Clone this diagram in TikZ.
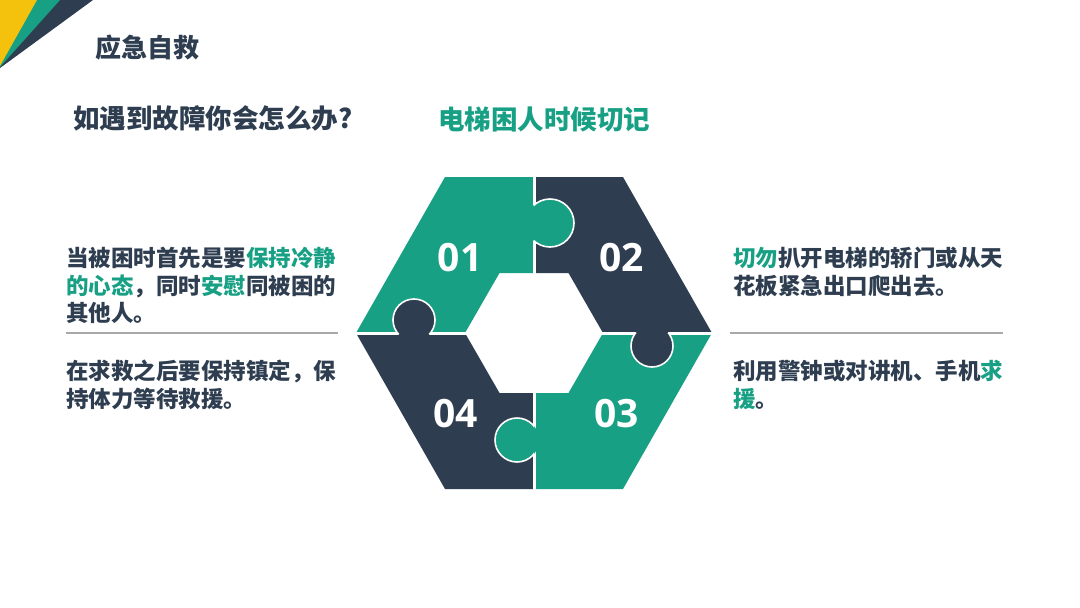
\documentclass[tikz,border=0pt]{standalone}
\usepackage{fontspec}
\setmainfont{Noto Sans CJK SC}
\newfontfamily\numfont{Open Sans}
\definecolor{tgreen}{HTML}{17A084}
\definecolor{tdark}{HTML}{2E3E50}
\definecolor{tyellow}{HTML}{F4C20D}
\definecolor{rulegray}{HTML}{A8A8A8}
\tikzset{
  gapline/.style={white, line width=3pt},
  tabrim/.style={white, line width=1.6pt},
  numtext/.style={text=white, font=\numfont\bfseries\fontsize{39}{44}\selectfont, inner sep=0pt},
  headtext/.style={font=\bfseries\fontsize{26}{30}\selectfont, inner sep=0pt, anchor=west},
  bodytext/.style={text=tdark, font=\bfseries\fontsize{22.5}{27.5}\selectfont, inner sep=0pt, align=left, anchor=north west},
  sepline/.style={rulegray, line width=1.5pt}
}
\begin{document}
\begin{tikzpicture}[x=1pt,y=-1pt]
\useasboundingbox (0,0) rectangle (1080,608);
\fill[white] (0,0) rectangle (1080,608);
% corner
\fill[tdark] (0,0) -- (93,0) -- (0,68) -- cycle;
\fill[tgreen] (0,0) -- (60,0) -- (0,67) -- cycle;
\fill[tyellow] (0,0) -- (37,0) -- (0,66) -- cycle;
% headings
\node[headtext, text=tdark] (title) at (95,48) {应急自救};
\node[headtext, text=tdark, font=\bfseries\fontsize{26.5}{30}\selectfont] (question) at (73,118) {如遇到故障你会怎么办?};
\node[headtext, text=tgreen, font=\bfseries\fontsize{26.5}{30}\selectfont] (remember) at (438,120) {电梯困人时候切记};
% hexagon geometry
\coordinate (L) at (356,333);
\coordinate (TL) at (445,177);
\coordinate (TR) at (623,177);
\coordinate (R) at (712,333);
\coordinate (BR) at (623,489);
\coordinate (BL) at (445,489);
\coordinate (il) at (465,333);
\coordinate (itl) at (499.5,273);
\coordinate (itr) at (568.5,273);
\coordinate (ir) at (603,333);
\coordinate (ibr) at (568.5,393);
\coordinate (ibl) at (499.5,393);
% pieces
\fill[tgreen] (534,177) -- (TL) -- (L) -- (il) -- (itl) -- (534,273) -- cycle;
\fill[tdark] (534,177) -- (TR) -- (R) -- (ir) -- (itr) -- (534,273) -- cycle;
\fill[tgreen] (534,489) -- (BR) -- (R) -- (ir) -- (ibr) -- (534,393) -- cycle;
\fill[tdark] (534,489) -- (BL) -- (L) -- (il) -- (ibl) -- (534,393) -- cycle;
% gaps
\draw[gapline] (534,170) -- (534,280);
\draw[gapline] (534,386) -- (534,496);
\draw[gapline] (350,333) -- (470,333);
\draw[gapline] (598,333) -- (718,333);
% tabs
\fill[tgreen] (550,223) circle[radius=24];
\fill[tdark] (652,346) circle[radius=21];
\fill[tgreen] (517,440) circle[radius=22];
\fill[tdark] (414,320) circle[radius=21];
\begin{scope}
  \clip (534,190) rectangle (600,260);
  \draw[tabrim] (550,223) circle[radius=24];
\end{scope}
\begin{scope}
  \clip (620,333) rectangle (690,380);
  \draw[tabrim] (652,346) circle[radius=21];
\end{scope}
\begin{scope}
  \clip (480,400) rectangle (534,480);
  \draw[tabrim] (517,440) circle[radius=22];
\end{scope}
\begin{scope}
  \clip (380,280) rectangle (450,333);
  \draw[tabrim] (414,320) circle[radius=21];
\end{scope}
% numbers
\node[numtext] (n01) at (460,257.5) {01};
\node[numtext] (n02) at (621.5,257.5) {02};
\node[numtext] (n03) at (616.5,414) {03};
\node[numtext] (n04) at (455.5,414) {04};
% left texts
\node[bodytext] (left1) at (66,247) {当被困时首先是要\textcolor{tgreen}{保持冷静}\\\textcolor{tgreen}{的心态}，同时\textcolor{tgreen}{安慰}同被困的\\其他人。};
\draw[sepline] (66,333) -- (338,333);
\node[bodytext] (left2) at (66,360) {在求救之后要保持镇定，保\\持体力等待救援。};
% right texts
\node[bodytext] (right1) at (733,247) {\textcolor{tgreen}{切勿}扒开电梯的轿门或从天\\花板紧急出口爬出去。};
\draw[sepline] (730,333) -- (1003,333);
\node[bodytext] (right2) at (733,360) {利用警钟或对讲机、手机\textcolor{tgreen}{求}\\\textcolor{tgreen}{援}。};
\end{tikzpicture}
\end{document}
